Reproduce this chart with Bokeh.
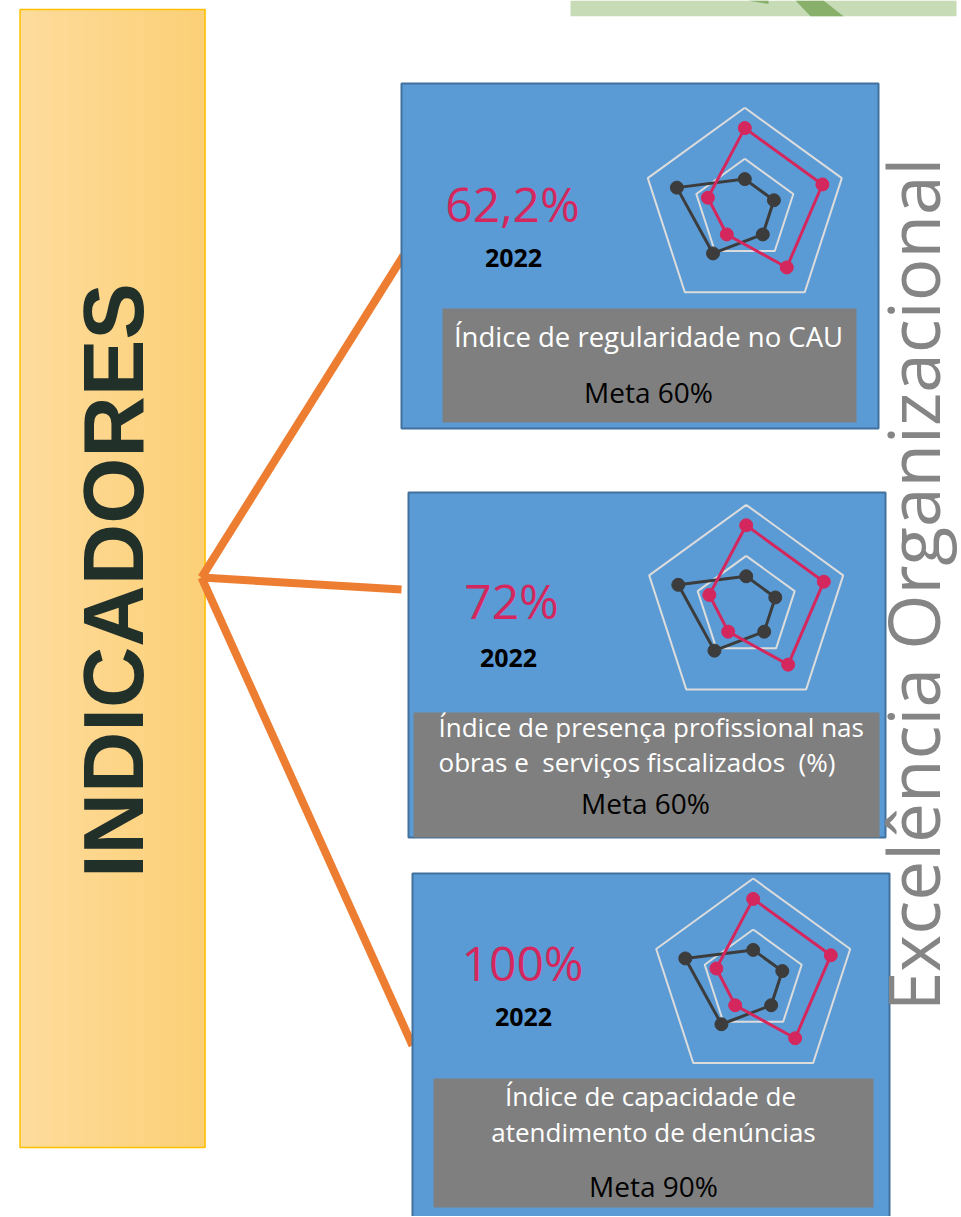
import math
from bokeh.plotting import figure
from bokeh.models import Range1d
from bokeh.core.properties import value
from bokeh.embed import file_html
from bokeh.resources import INLINE

# ---------------- data ----------------
headline_values = ["62,2%", "72%", "100%"]
years = ["2022", "2022", "2022"]
indicator_titles = [
    ["Índice de regularidade no CAU"],
    ["Índice de presença profissional nas", "obras e \u00a0serviços fiscalizados \u00a0(%)"],
    ["Índice de capacidade de", "atendimento de denúncias"],
]
meta_labels = ["Meta 60%", "Meta 60%", "Meta 90%"]
radar_axes = ["A", "B", "C", "D", "E"]
radar_pink = [80, 80, 70, 30, 38]
radar_dark = [30, 30, 30, 53, 70]
radar_grid_levels = [50, 100]
radar_max = 100
side_title = "INDICADORES"
vertical_title = "Excelência Organizacional"

# ---------------- styling / layout ----------------
W, H = 960, 1216
p = figure(width=W, height=H, x_range=Range1d(0, W), y_range=Range1d(H, 0),
           output_backend="svg", toolbar_location=None, min_border=0)
p.axis.visible = False
p.grid.visible = False
p.outline_line_color = None
p.background_fill_color = "white"
p.border_fill_color = "white"

FONT = value("Open Sans")
PINK = "#d4275e"
DARK = "#3c3c3c"
BLUE = "#5b9bd5"
BLUE_EDGE = "#41719c"
GRAY = "#7f7f7f"
BASE_ADJ = 0.41  # baseline correction (fraction of font size)

def label(x, y, txt, size, color, align="center", bold=False):
    p.text(x=[x], y=[y - BASE_ADJ * size], text=[txt], text_align=align,
           text_baseline="alphabetic", text_font=FONT,
           text_font_style="bold" if bold else "normal",
           text_font_size=f"{size}px", text_color=color)

# green banner top right
p.quad(left=[570], right=[956], top=[0], bottom=[15.7], fill_color="#c6dbb6", line_color=None)
p.patch(x=[795, 823, 843, 810], y=[0, 0, 15.7, 15.7], fill_color="#88b06a", line_color=None)
p.patch(x=[747, 768, 768], y=[0, 0, 3.5], fill_color="#88b06a", line_color=None)

# yellow side panel (gradient approximated by strips)
yl, yr, yt, yb = 19.5, 204.5, 9, 1147
c0 = (253, 220, 156)
c1 = (252, 207, 118)
n = 12
for i in range(n):
    t = (i + 0.5) / n
    col = "#%02x%02x%02x" % tuple(int(round(c0[k] + (c1[k] - c0[k]) * t)) for k in range(3))
    p.quad(left=[yl + (yr - yl) * i / n], right=[yl + (yr - yl) * (i + 1) / n + 0.5],
           top=[yt], bottom=[yb], fill_color=col, line_color=None)
p.quad(left=[yl], right=[yr], top=[yt], bottom=[yb], fill_color=None,
       line_color="#ffc000", line_width=1.5)
p.text(x=[113], y=[580], text=[side_title], angle=math.pi / 2, text_align="center",
       text_baseline="alphabetic", text_font=value("Liberation Sans"), text_font_style="bold",
       text_font_size="85px", text_color="#22302a")

# boxes: (left, top, right, bottom)
boxes = [(401, 83, 878, 428), (408, 492, 885, 837), (412, 873, 889, 1230)]
gray_boxes = [(442, 308, 856, 422), (413, 712, 879, 837), (433, 1078, 873, 1207)]
radar_centers = [(744.3, 209.2), (745.7, 606.4), (752.7, 980.0)]
R = 102
headline_pos = [(512, 223), (511, 620), (522, 982)]
year_pos = [(513, 268), (508, 668), (523, 1027)]
title_pos = [[(648, 347, "center", 27.5)],
             [(438, 737, "left", 26), (438, 772, "left", 26)],
             [(650, 1106, "center", 26), (653, 1142, "center", 26)]]
meta_pos = [(648, 403), (645, 814), (653, 1197)]

# orange connectors
junction = (201, 577)
ends = [(403, 255), (401, 589), (412, 1045)]
for ex, ey in ends:
    p.line(x=[junction[0], ex], y=[junction[1], ey], line_color="#ed7d31", line_width=8)

def radar_xy(vals, cx, cy):
    xs, ys = [], []
    for k, v in enumerate(vals):
        th = 2 * math.pi * k / len(vals)
        r = R * v / radar_max
        xs.append(cx + r * math.sin(th))
        ys.append(cy - r * math.cos(th))
    return xs, ys

for b in range(3):
    l, t, r, bt = boxes[b]
    p.quad(left=[l], right=[r], top=[t], bottom=[bt], fill_color=BLUE,
           line_color=BLUE_EDGE, line_width=2)
    gl, gt, gr, gb = gray_boxes[b]
    p.quad(left=[gl], right=[gr], top=[gt], bottom=[gb], fill_color=GRAY, line_color=None)

    cx, cy = radar_centers[b]
    for lvl in radar_grid_levels:
        xs, ys = radar_xy([lvl] * len(radar_axes), cx, cy)
        p.line(x=xs + xs[:1], y=ys + ys[:1], line_color="#dcdcdc", line_width=2)
    for vals, col in ((radar_dark, DARK), (radar_pink, PINK)):
        xs, ys = radar_xy(vals, cx, cy)
        p.line(x=xs + xs[:1], y=ys + ys[:1], line_color=col, line_width=3)
        p.scatter(x=xs, y=ys, size=13, fill_color=col, line_color=col)

    hx, hy = headline_pos[b]
    label(hx, hy, headline_values[b], 48, PINK)
    yx, yy = year_pos[b]
    label(yx, yy, years[b], 25, "black", bold=True)
    for (tx, ty, al, fs), line in zip(title_pos[b], indicator_titles[b]):
        label(tx, ty, line, fs, "white", align=al)
    mx, my = meta_pos[b]
    label(mx, my, meta_labels[b], 28, "black")

p.text(x=[912], y=[584], text=[vertical_title], angle=math.pi / 2, text_align="center",
       text_baseline="alphabetic", text_font=FONT, text_font_size="71px", text_color="#858585")

open("out.html", "w").write(file_html(p, INLINE))
